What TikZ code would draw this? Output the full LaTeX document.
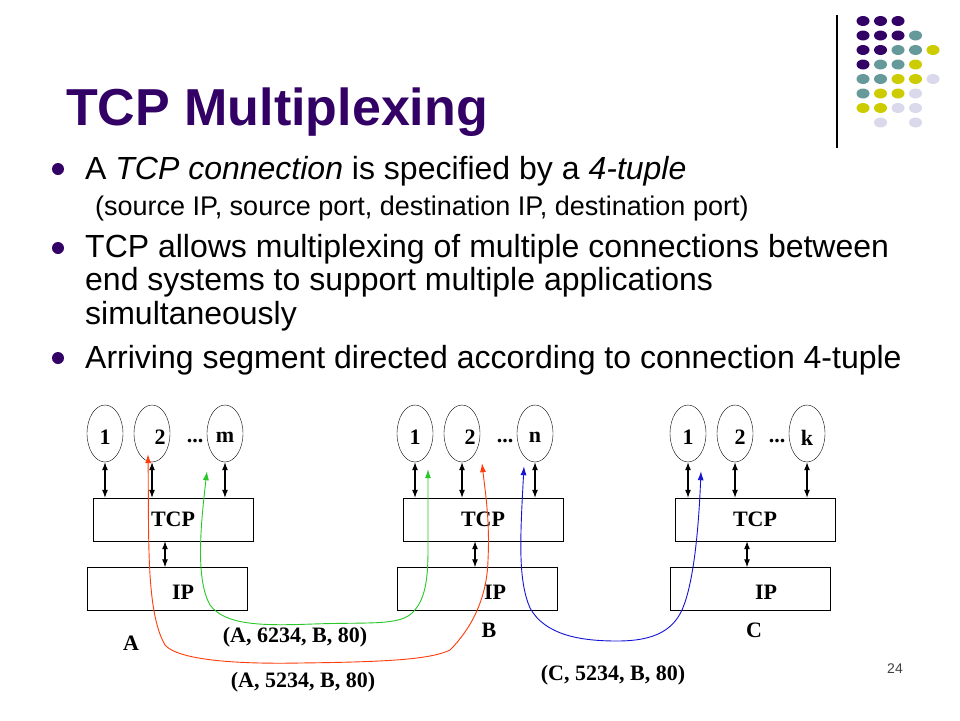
\documentclass[tikz,border=0pt]{standalone}
\usepackage{fontspec}
\setmainfont{Liberation Sans}
\newfontfamily\hostserif{Liberation Serif}
\usetikzlibrary{shapes.geometric, arrows.meta, positioning}

\definecolor{titlepurple}{RGB}{51,0,102}
\definecolor{dotteal}{RGB}{102,153,153}
\definecolor{dotlime}{RGB}{204,204,0}
\definecolor{dotlilac}{RGB}{217,217,235}
\definecolor{segred}{RGB}{255,60,10}
\definecolor{seggreen}{RGB}{40,200,40}
\definecolor{segblue}{RGB}{20,20,210}

\newcommand\hostfont{\hostserif\bfseries\fontsize{22}{26}\selectfont}
\newcommand\slidebody{\fontsize{32}{38}\selectfont}

\tikzset{
  app/.style={draw, ellipse, minimum width=36pt, minimum height=57pt, inner sep=0pt},
  layer/.style={draw, minimum width=160pt, minimum height=43pt, inner sep=0pt, font=\hostfont},
  lbl/.style={font=\hostfont, inner sep=0pt},
  body/.style={anchor=base west, inner sep=0pt, font=\slidebody},
  sock/.style={{Latex[length=8pt,width=6pt]}-{Latex[length=8pt,width=6pt]}, line width=1.1pt},
  seg/.style={{Latex[length=9pt,width=6pt]}-{Latex[length=9pt,width=6pt]}, line width=0.9pt},
}

\begin{document}
\begin{tikzpicture}[x=1pt, y=-1pt]
    \fill[white] (0,0) rectangle (960,720);
    \useasboundingbox (0,0) rectangle (960,720);

    % Corner decoration
    \draw[line width=1.3pt] (837,15) -- (837,148);
    \foreach \c/\r/\col in {0/0/titlepurple, 1/0/titlepurple, 2/0/titlepurple,
        0/1/titlepurple, 1/1/titlepurple, 2/1/titlepurple, 3/1/dotteal,
        0/2/titlepurple, 1/2/titlepurple, 2/2/dotteal, 3/2/dotteal, 4/2/dotlime,
        0/3/titlepurple, 1/3/dotteal, 2/3/dotteal, 3/3/dotlime,
        0/4/dotteal, 1/4/dotteal, 2/4/dotlime, 3/4/dotlime, 4/4/dotlilac,
        0/5/dotteal, 1/5/dotlime, 2/5/dotlime, 3/5/dotlilac,
        0/6/dotlime, 1/6/dotlime, 2/6/dotlilac, 3/6/dotlilac,
        1/7/dotlilac, 3/7/dotlilac}
        \fill[\col] ({863+17.5*\c},{21+14.5*\r}) ellipse (6.5 and 5);

    % Title and bullets
    \node[anchor=base west, inner sep=0pt, text=titlepurple,
          font=\bfseries\fontsize{52}{62}\selectfont] (title) at (66,125) {TCP Multiplexing};
    \fill[titlepurple] (58,169) circle (6);
    \node[body] (bulletA) at (85,179) {A \textit{TCP connection} is specified by a \textit{4-tuple}};
    \node[anchor=base west, inner sep=0pt, font=\fontsize{27}{32}\selectfont] (tuple) at (95,215)
        {(source IP, source port, destination IP, destination port)};
    \fill[titlepurple] (58,248) circle (6);
    \node[body] (bulletB) at (85,257) {TCP allows multiplexing of multiple connections between};
    \node[body] (bulletBb) at (85,290) {end systems to support multiple applications};
    \node[body] (bulletBc) at (85,324) {simultaneously};
    \fill[titlepurple] (58,358) circle (6);
    \node[body] (bulletC) at (85,368) {Arriving segment directed according to connection 4-tuple};

    % Host A
    \node[app, label={[lbl, yshift=-4pt]center:1}] (eA1) at (105,433.5) {};
    \node[app, label={[lbl, xshift=8pt, yshift=-4pt]center:2}] (eA2) at (152,433.5) {};
    \node[app, label={[lbl, yshift=-4pt]center:m}] (eAm) at (225,433.5) {};
    \node[lbl] (dotsA) at (195,441) {...};
    \node[layer] (tcpA) at (173,519.5) {TCP};
    \node[layer, label={[lbl, xshift=16pt, yshift=-3pt]center:IP}] (ipA) at (167,589) {};
    \foreach \e in {eA1, eA2, eAm}
        \draw[sock] (\e.south) -- (\e.south |- tcpA.north);
    \draw[sock] ([xshift=-8pt]tcpA.south) -- ([xshift=-8pt]tcpA.south |- ipA.north);

    % Host B
    \node[app, label={[lbl, yshift=-4pt]center:1}] (eB1) at (415,433.5) {};
    \node[app, label={[lbl, xshift=8pt, yshift=-4pt]center:2}] (eB2) at (462,433.5) {};
    \node[app, label={[lbl, yshift=-4pt]center:n}] (eBn) at (535,433.5) {};
    \node[lbl] (dotsB) at (505,441) {...};
    \node[layer] (tcpB) at (483,519.5) {TCP};
    \node[layer, label={[lbl, xshift=18pt, yshift=-3pt]center:IP}] (ipB) at (477,589) {};
    \foreach \e in {eB1, eB2, eBn}
        \draw[sock] (\e.south) -- (\e.south |- tcpB.north);
    \draw[sock] ([xshift=-8pt]tcpB.south) -- ([xshift=-8pt]tcpB.south |- ipB.north);

    % Host C
    \node[app, label={[lbl, yshift=-4pt]center:1}] (eC1) at (688,433.5) {};
    \node[app, label={[lbl, xshift=5pt, yshift=-4pt]center:2}] (eC2) at (735,433.5) {};
    \node[app, label={[lbl, yshift=-4pt]center:k}] (eCk) at (807,433.5) {};
    \node[lbl] (dotsC) at (777,441) {...};
    \node[layer] (tcpC) at (755,519.5) {TCP};
    \node[layer, label={[lbl, xshift=16pt, yshift=-3pt]center:IP}] (ipC) at (750,589) {};
    \foreach \e in {eC1, eC2, eCk}
        \draw[sock] (\e.south) -- (\e.south |- tcpC.north);
    \draw[sock] ([xshift=-8pt]tcpC.south) -- ([xshift=-8pt]tcpC.south |- ipC.north);

    % Host names
    \node[lbl] (hostA) at (131,643) {A};
    \node[lbl] (hostB) at (489,630) {B};
    \node[lbl] (hostC) at (754,630) {C};

    % Segments
    \draw[seg, segred] ([xshift=-4pt, yshift=8pt]eA2.south)
        .. controls (149,540) and (146,612) .. (165,645)
        .. controls (180,662) and (250,664) .. (300,663)
        .. controls (380,662) and (430,660) .. (450,650)
        .. controls (470,630) and (487,600) .. (488,560)
        .. controls (490,520) and (485,490) .. ([xshift=20pt, yshift=-1pt]eB2.south);
    \draw[seg, seggreen] ([xshift=-18pt, yshift=-9pt]eAm.south)
        .. controls (200,530) and (196,580) .. (210,605)
        .. controls (225,625) and (260,626) .. (313,624)
        .. controls (370,622) and (400,626) .. (413,612)
        .. controls (425,600) and (428,580) .. (428,550)
        .. controls (428,510) and (428,490) .. ([xshift=13pt, yshift=-7pt]eB1.south);
    \draw[seg, segblue] ([xshift=-11pt, yshift=-4pt]eBn.south)
        .. controls (520,540) and (518,580) .. (530,608)
        .. controls (545,635) and (580,641) .. (617,641)
        .. controls (655,641) and (675,630) .. (684,605)
        .. controls (695,575) and (699,520) .. ([xshift=13pt, yshift=-9pt]eC1.south);

    \node[lbl] (tupA2) at (295,637) {(A, 6234, B, 80)};
    \node[lbl] (tupA1) at (303,682) {(A, 5234, B, 80)};
    \node[lbl] (tupC) at (613,675) {(C, 5234, B, 80)};

    \node[inner sep=0pt, text=black!75, font=\fontsize{14}{17}\selectfont] (pagenum) at (895,669) {24};
\end{tikzpicture}
\end{document}
